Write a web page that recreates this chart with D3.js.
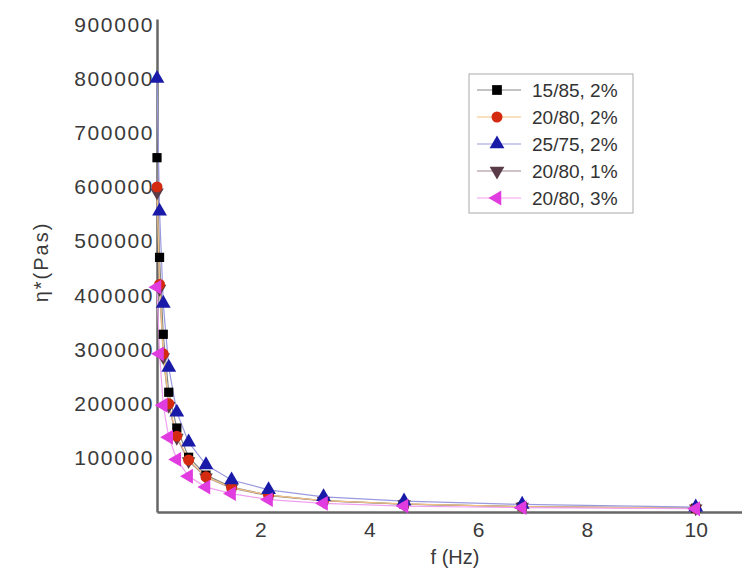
<!DOCTYPE html>
<html>
<head>
<meta charset="utf-8">
<script src="https://cdn.jsdelivr.net/npm/d3@7"></script>
<style>
  body { margin: 0; background: #fff; }
  svg { display: block; font-family: Arial, "Liberation Sans", sans-serif; }
  .axis path { stroke: #666; stroke-width: 2.5; }
  .axis text { fill: #3a3a3a; font-size: 21px; }
</style>
</head>
<body>
<div id="chart"></div>
<script>
// frequencies (Hz)
var freq = [0.1, 0.147, 0.215, 0.316, 0.464, 0.681, 1, 1.47, 2.15, 3.16, 4.64, 6.81, 10];

// complex viscosity eta* (Pa s)
var s1585_2 = [654000, 470000, 328000, 221000, 155000, 101000, 68000, 46000, 31000, 21000, 14500, 10000, 7000];
var s2080_2 = [600000, 420000, 292000, 200000, 140000, 96000, 65000, 45000, 31000, 21000, 15000, 10000, 7000];
var s2575_2 = [800000, 555000, 385000, 267000, 184000, 129000, 87000, 59000, 41000, 28000, 20000, 14000, 9000];
var s2080_1 = [590000, 412000, 286000, 196000, 137000, 94000, 64000, 44000, 30000, 20500, 14500, 9800, 6800];
var s2080_3 = [415000, 292000, 197000, 138000, 97000, 66000, 46000, 34000, 23000, 16000, 11000, 8000, 6000];

var seriesNames = ["15/85, 2%", "20/80, 2%", "25/75, 2%", "20/80, 1%", "20/80, 3%"];
var seriesValues = [s1585_2, s2080_2, s2575_2, s2080_1, s2080_3];

var xTicks = [2, 4, 6, 8, 10];
var yTicks = [100000, 200000, 300000, 400000, 500000, 600000, 700000, 800000, 900000];

var colors = ["#000000", "#d42a10", "#1a1aa8", "#5a3c48", "#e03ce0"];
var lineColors = ["#888888", "#f0c080", "#9a9ae0", "#a08890", "#f0a0f0"];
var shapes = [d3.symbolSquare, d3.symbolCircle, d3.symbolTriangle, d3.symbolTriangle, d3.symbolTriangle];
var rotations = [0, 0, 0, 180, -90];
// the brown series is hidden under the others in the picture
var drawOrder = [3, 0, 1, 2, 4];

var width = 742, height = 573;

var svg = d3.select("#chart").append("svg")
    .attr("width", width).attr("height", height);

var xScale = d3.scaleLinear().domain([0.1, 10.85]).range([157, 742]);
var yScale = d3.scaleLinear().domain([0, 910000]).range([512, 19]);

// axes
var xAxis = d3.axisBottom(xScale).tickValues(xTicks).tickSize(0).tickPadding(10).tickFormat(d3.format("d"));
var yAxis = d3.axisLeft(yScale).tickValues(yTicks).tickSize(0).tickPadding(3).tickFormat(d3.format("d"));

svg.append("g").attr("class", "x axis")
    .attr("transform", "translate(0,512)")
    .call(xAxis)
    .selectAll("text").attr("dy", "0.71em");

svg.append("g").attr("class", "y axis")
    .attr("transform", "translate(157,0)")
    .call(yAxis)
    .selectAll("text").style("letter-spacing", "1.6px");

svg.selectAll(".axis .domain").attr("stroke", "#666");

// axis titles
svg.append("text")
    .attr("x", 455).attr("y", 564)
    .attr("text-anchor", "middle")
    .attr("fill", "#3a3a3a").style("font-size", "20px")
    .text("f (Hz)");

svg.append("text")
    .attr("transform", "translate(48,262) rotate(-90)")
    .attr("text-anchor", "middle")
    .attr("fill", "#3a3a3a").style("font-size", "20px")
    .style("letter-spacing", "2px")
    .text("\u03b7*(Pas)");

// lines
var line = d3.line()
    .x(function (d) { return xScale(d[0]); })
    .y(function (d) { return yScale(d[1]); });

drawOrder.forEach(function (i) {
    var vals = seriesValues[i];
    var pts = freq.map(function (f, j) { return [f, vals[j]]; });
    svg.append("path").datum(pts)
        .attr("fill", "none")
        .attr("stroke", lineColors[i])
        .attr("stroke-width", 1.2)
        .attr("d", line);
});

// markers
drawOrder.forEach(function (i) {
    var vals = seriesValues[i];
    var sym = d3.symbol().type(shapes[i]).size(i === 0 ? 85 : (i === 3 ? 80 : 95));
    svg.append("g").selectAll("path")
        .data(freq.map(function (f, j) { return [f, vals[j]]; }))
        .enter().append("path")
        .attr("d", sym)
        .attr("fill", colors[i])
        .attr("transform", function (d) {
            return "translate(" + xScale(d[0]) + "," + yScale(d[1]) + ") rotate(" + rotations[i] + ")";
        });
});

// legend
var legend = svg.append("g").attr("transform", "translate(469,74)");
legend.append("rect")
    .attr("width", 164).attr("height", 139)
    .attr("fill", "#fff").attr("stroke", "#aaa").attr("stroke-width", 1);

seriesNames.forEach(function (name, i) {
    var y = 16 + i * 27;
    legend.append("line")
        .attr("x1", 8).attr("x2", 52).attr("y1", y).attr("y2", y)
        .attr("stroke", lineColors[i]).attr("stroke-width", 1.2);
    legend.append("path")
        .attr("d", d3.symbol().type(shapes[i]).size(95))
        .attr("fill", colors[i])
        .attr("transform", "translate(28," + y + ") rotate(" + rotations[i] + ")");
    legend.append("text")
        .attr("x", 63).attr("y", y).attr("dy", "0.36em")
        .attr("fill", "#333").style("font-size", "19px")
        .text(name);
});
</script>
</body>
</html>
